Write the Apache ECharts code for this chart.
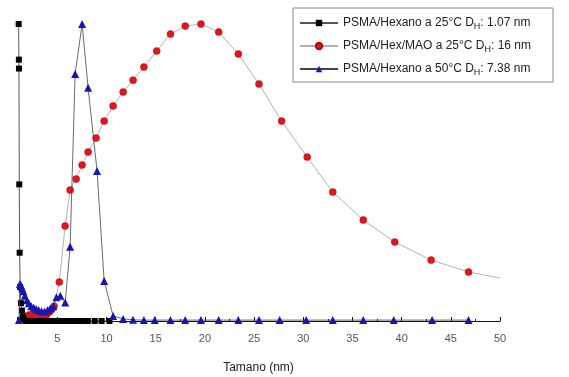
<!DOCTYPE html>
<html>
<head>
<meta charset="utf-8">
<script src="https://cdn.jsdelivr.net/npm/echarts@6/dist/echarts.min.js"></script>
<style>
  html, body { margin: 0; padding: 0; background: #fff; }
  #chart { width: 569px; height: 377px; }
</style>
</head>
<body>
<div id="chart"></div>
<script>
// PSMA/Hexano a 25°C (black squares)
const hex25X = [1.07, 1.09, 1.1, 1.13, 1.17, 1.22, 1.3, 1.4, 1.5, 1.6, 1.8, 2.1, 2.4, 2.7, 3.0, 3.3, 3.6, 3.9, 4.2, 4.5, 4.8, 5.2, 5.6, 6.0, 6.5, 7.0, 7.5, 8.1, 8.8, 9.5, 10.3]
const hex25Y = [1.0, 0.88, 0.85, 0.46, 0.23, 0.114, 0.06, 0.035, 0.015, 0.005, 0, 0, 0, 0, 0, 0, 0, 0, 0, 0, 0, 0, 0, 0, 0, 0, 0, 0, 0, 0, 0]

// PSMA/Hex/MAO a 25°C (red circles)
const maoX = [1.5, 1.8, 2.1, 2.4, 2.7, 3.0, 3.3, 3.6, 3.9, 4.2, 4.45, 4.67, 5.2, 5.79, 6.3, 6.91, 7.52, 8.13, 8.94, 9.76, 10.67, 11.69, 12.7, 13.8, 15.1, 16.5, 18.0, 19.6, 21.4, 23.4, 25.5, 27.8, 30.4, 33.0, 36.1, 39.3, 43.0, 46.8, 50]
const maoY = [0.01, 0.015, 0.02, 0.02, 0.015, 0.012, 0.012, 0.015, 0.02, 0.03, 0.04, 0.05, 0.131, 0.32, 0.441, 0.478, 0.525, 0.569, 0.616, 0.673, 0.724, 0.771, 0.811, 0.855, 0.909, 0.966, 0.993, 1.0, 0.973, 0.899, 0.798, 0.673, 0.552, 0.434, 0.34, 0.266, 0.205, 0.165, 0.145]

// PSMA/Hexano a 50°C (blue triangles)
const hex50X = [1.1, 1.2, 1.3, 1.42, 1.55, 1.7, 1.9, 2.1, 2.35, 2.6, 2.85, 3.1, 3.4, 3.7, 4.0, 4.3, 4.6, 4.9, 5.3, 5.8, 6.3, 6.81, 7.52, 8.13, 9.04, 9.76, 10.67, 11.69, 12.7, 13.8, 14.9, 16.5, 18.0, 19.6, 21.4, 23.4, 25.5, 27.6, 30.3, 33.0, 36.1, 39.2, 43.1, 46.8]
const hex50Y = [0.003, 0.125, 0.12, 0.11, 0.1, 0.085, 0.07, 0.06, 0.05, 0.045, 0.04, 0.037, 0.033, 0.032, 0.036, 0.042, 0.05, 0.08, 0.085, 0.062, 0.25, 0.832, 1.0, 0.785, 0.505, 0.135, 0.017, 0.007, 0.004, 0.003, 0.003, 0.003, 0.003, 0.003, 0.003, 0.003, 0.003, 0.003, 0.003, 0.003, 0.003, 0.003, 0.003, 0.003]

const names = [
  'PSMA/Hexano a 25°C DH: 1.07 nm',
  'PSMA/Hex/MAO a 25°C DH: 16 nm',
  'PSMA/Hexano a 50°C DH: 7.38 nm'
]
const legendRich = {
  [names[0]]: '{t|PSMA/Hexano a 25°C D}{s|H}{t|: 1.07 nm}',
  [names[1]]: '{t|PSMA/Hex/MAO a 25°C D}{s|H}{t|: 16 nm}',
  [names[2]]: '{t|PSMA/Hexano a 50°C D}{s|H}{t|: 7.38 nm}'
}

const zip = (xs, ys) => xs.map((x, i) => [x, ys[i]])

const maoData = zip(maoX, maoY).map((p, i) =>
  i === maoX.length - 1 ? { value: p, symbol: 'none' } : p
)

const font = 'Liberation Sans, Arial, sans-serif'

const chart = echarts.init(document.getElementById('chart'))
chart.setOption({
  animation: false,
  textStyle: { fontFamily: font },
  grid: { left: 17, right: 69, top: 24, bottom: 56, outerBoundsMode: 'none', containLabel: false },
  legend: {
    orient: 'vertical',
    left: 293,
    top: 8,
    padding: [9, 22, 5, 6],
    itemGap: 9,
    itemWidth: 38,
    itemHeight: 8,
    borderColor: '#888',
    borderWidth: 1,
    data: names,
    formatter: name => legendRich[name],
    textStyle: {
      rich: {
        t: { fontSize: 12, color: '#222', fontFamily: font },
        s: { fontSize: 9, color: '#222', padding: [7, 0, 0, 0], fontFamily: font }
      }
    }
  },
  xAxis: {
    type: 'value',
    min: 0.9,
    max: 50,
    splitNumber: 10,
    name: 'Tamano (nm)',
    nameLocation: 'middle',
    nameGap: 41,
    nameTextStyle: { fontSize: 12, color: '#222' },
    axisLine: { lineStyle: { color: '#111', width: 1 } },
    axisTick: { inside: true, length: 4, lineStyle: { color: '#111' } },
    minorTick: { show: true, splitNumber: 2, length: 2, lineStyle: { color: '#111' } },
    axisLabel: { showMinLabel: false, fontSize: 11, color: '#555', margin: 12 },
    splitLine: { show: false }
  },
  yAxis: {
    type: 'value',
    min: 0,
    max: 1,
    show: false
  },
  series: [
    {
      name: names[0],
      type: 'line',
      data: zip(hex25X, hex25Y),
      symbol: 'rect',
      symbolSize: 6,
      itemStyle: { color: '#000' },
      lineStyle: { color: '#555', width: 1 },
      clip: false,
      z: 3
    },
    {
      name: names[1],
      type: 'line',
      data: maoData,
      symbol: 'circle',
      symbolSize: 7,
      itemStyle: { color: '#e3141c', borderColor: '#a80d12', borderWidth: 0.5 },
      lineStyle: { color: '#b5b0b0', width: 1 },
      clip: false,
      z: 2
    },
    {
      name: names[2],
      type: 'line',
      data: zip(hex50X, hex50Y),
      symbol: 'triangle',
      symbolSize: 8,
      itemStyle: { color: '#1717b0' },
      lineStyle: { color: '#444', width: 0.8 },
      clip: false,
      z: 4
    }
  ]
})
</script>
</body>
</html>
